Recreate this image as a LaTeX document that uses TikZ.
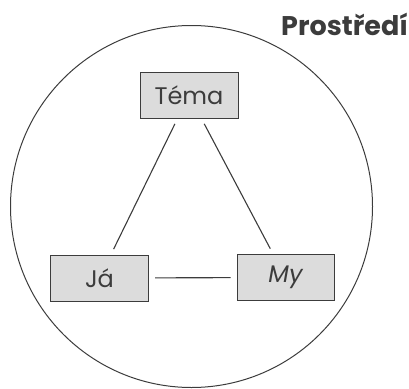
\documentclass[tikz,border=0pt]{standalone}
\usepackage{fontspec}
\setmainfont{Poppins}
\usetikzlibrary{calc}
\definecolor{boxgray}{HTML}{DCDCDC}
\definecolor{linegray}{HTML}{3C3C3C}
\def\edges{tema/ja,tema/my,ja/my}

\begin{document}
\begin{tikzpicture}[x=1pt,y=-1pt,
                      pojem/.style={draw=linegray,fill=boxgray,line width=1pt,
                                    minimum width=98pt,minimum height=46pt,text=linegray,
                                    inner sep=0pt,font=\fontsize{24}{26}\selectfont},
                      vazba/.style={draw=linegray,line width=1.1pt,shorten <=6pt,shorten >=6pt}]
  \useasboundingbox (0,0) rectangle (409,388);

  % prostredi
  \node(okoli)[draw=linegray,line width=1pt,circle,minimum size=362pt,inner sep=0pt] at (191.5,206.5){};
  \node(nadpis)[anchor=base west,inner sep=0pt,font=\fontsize{27}{29}\selectfont\bfseries,text=linegray]
       at (281,35){Prostředí};

  \node(tema)[pojem] at (189,95){Téma};
  \node(ja)[pojem] at (99.5,278){Já};
  \node(my)[pojem,minimum width=97pt] at (285.5,277.5){\itshape My};

  % loop over the edges
  \foreach \A/\B in \edges {%
    \draw[vazba] (\A) -- (\B);
  }

\end{tikzpicture}
\end{document}
